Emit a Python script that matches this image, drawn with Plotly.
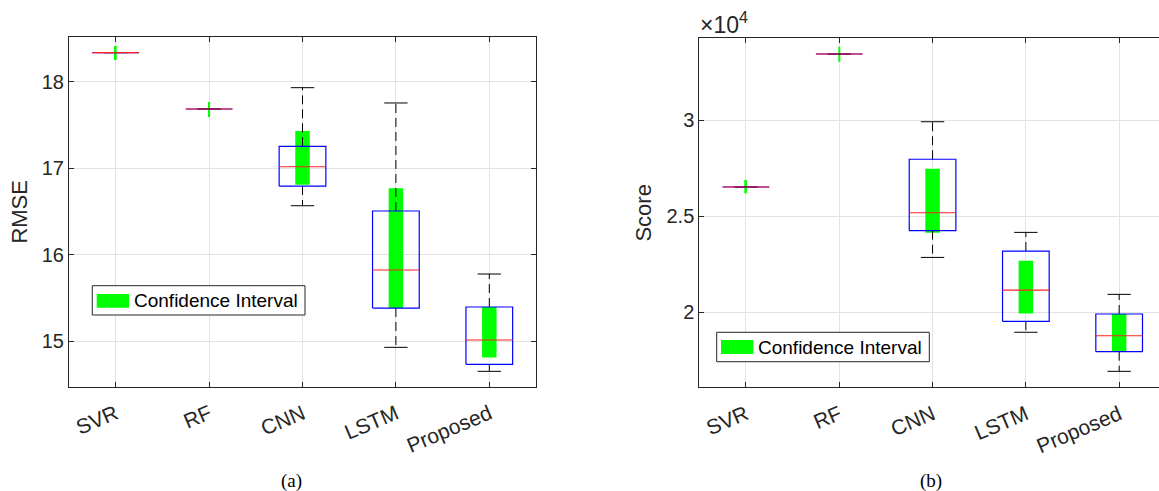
import plotly.graph_objects as go

W, H = 1159, 491

categories = ["SVR", "RF", "CNN", "LSTM", "Proposed"]

# RMSE panel (a)
rmse_lower = [18.34, 17.687, 16.567, 14.927, 14.649]
rmse_q1 = [18.34, 17.687, 16.795, 15.382, 14.730]
rmse_median = [18.34, 17.687, 17.019, 15.822, 15.011]
rmse_q3 = [18.34, 17.687, 17.255, 16.506, 15.394]
rmse_upper = [18.34, 17.687, 17.934, 17.757, 15.776]
rmse_ci_lo = [18.255, 17.595, 16.810, 15.382, 14.808]
rmse_ci_hi = [18.417, 17.768, 17.432, 16.769, 15.394]

# Score panel (b)
score_lower = [26520, 33430, 22860, 18970, 16940]
score_q1 = [26520, 33430, 24250, 19540, 17960]
score_median = [26520, 33430, 25180, 21160, 18790]
score_q3 = [26520, 33430, 27960, 23190, 19920]
score_upper = [26520, 33430, 29910, 24160, 20940]
score_ci_lo = [26190, 33030, 24140, 19950, 18000]
score_ci_hi = [26880, 33810, 27470, 22690, 19920]

ci_widths = [0.02, 0.02, 0.155, 0.155, 0.155]

BOX_HW = 0.25
CAP_HW = 0.125
AX = "#262626"
GRID = "#e3e3e3"
FONT = "Liberation Sans"
SERIF = "Liberation Serif"


def add_panel(fig, xa, ya, lower, q1, med, q3, upper, ci_lo, ci_hi):
    pos = list(range(1, len(categories) + 1))
    # whiskers (dashed)
    wx, wy = [], []
    for p, lo, a, b, up in zip(pos, lower, q1, q3, upper):
        wx += [p, p, None, p, p, None]
        wy += [b, up, None, a, lo, None]
    fig.add_trace(go.Scatter(x=wx, y=wy, mode="lines", xaxis=xa, yaxis=ya,
                             line=dict(color="black", width=1, dash="9px,5px"),
                             showlegend=False, hoverinfo="skip"))
    # caps
    cx, cy = [], []
    for p, lo, up in zip(pos, lower, upper):
        cx += [p - CAP_HW, p + CAP_HW, None, p - CAP_HW, p + CAP_HW, None]
        cy += [up, up, None, lo, lo, None]
    fig.add_trace(go.Scatter(x=cx, y=cy, mode="lines", xaxis=xa, yaxis=ya,
                             line=dict(color="black", width=1),
                             showlegend=False, hoverinfo="skip"))
    # boxes
    bx, by = [], []
    for p, a, b in zip(pos, q1, q3):
        bx += [p - BOX_HW, p + BOX_HW, p + BOX_HW, p - BOX_HW, p - BOX_HW, None]
        by += [a, a, b, b, a, None]
    fig.add_trace(go.Scatter(x=bx, y=by, mode="lines", xaxis=xa, yaxis=ya,
                             line=dict(color="#0000ff", width=1.2),
                             showlegend=False, hoverinfo="skip"))
    # medians
    mx, my = [], []
    for p, m in zip(pos, med):
        mx += [p - BOX_HW, p + BOX_HW, None]
        my += [m, m, None]
    fig.add_trace(go.Scatter(x=mx, y=my, mode="lines", xaxis=xa, yaxis=ya,
                             line=dict(color="#ff2020", width=1.1),
                             showlegend=False, hoverinfo="skip"))
    # confidence interval bars
    fig.add_trace(go.Bar(x=pos, y=[h - l for l, h in zip(ci_lo, ci_hi)], base=ci_lo,
                         width=ci_widths, xaxis=xa, yaxis=ya,
                         marker=dict(color="#00ff00", line=dict(width=0)),
                         showlegend=False, hoverinfo="skip"))


fig = go.Figure()
add_panel(fig, "x", "y", rmse_lower, rmse_q1, rmse_median, rmse_q3, rmse_upper, rmse_ci_lo, rmse_ci_hi)
add_panel(fig, "x2", "y2", score_lower, score_q1, score_median, score_q3, score_upper, score_ci_lo, score_ci_hi)


def px(x):
    return x / W


def py(y):
    return 1 - y / H


common_x = dict(tickmode="array", tickvals=list(range(1, 6)), ticktext=categories,
                tickangle=-23, showgrid=True, gridcolor=GRID, gridwidth=1,
                showline=True, linecolor=AX, linewidth=1, ticks="inside", ticklen=5,
                tickcolor=AX, zeroline=False, ticklabelstandoff=6,
                tickfont=dict(family=FONT, size=21, color=AX))
common_y = dict(showgrid=True, gridcolor=GRID, gridwidth=1, showline=True,
                linecolor=AX, linewidth=1, ticks="inside", ticklen=5, tickcolor=AX,
                zeroline=False, tickfont=dict(family=FONT, size=20, color=AX))

fig.update_layout(
    width=W, height=H, margin=dict(l=0, r=0, t=0, b=0),
    paper_bgcolor="white", plot_bgcolor="white", barmode="overlay",
    showlegend=False,
    xaxis=dict(common_x, domain=[px(69), px(536)], range=[0.5, 5.5], anchor="y",
               mirror="ticks"),
    yaxis=dict(common_y, domain=[py(386.7), py(37)], range=[14.471, 18.521], anchor="x",
               mirror="ticks", tickvals=[15, 16, 17, 18], ticktext=["15", "16", "17", "18"],
               title=dict(text="RMSE", font=dict(family=FONT, size=22, color=AX), standoff=8)),
    xaxis2=dict(common_x, domain=[px(699.3), 1.0], range=[0.5, 5.427], anchor="y2",
                mirror="ticks"),
    yaxis2=dict(common_y, domain=[py(387.3), py(38.3)], range=[16110, 34246], anchor="x2",
                mirror=False, tickvals=[20000, 25000, 30000], ticktext=["2", "2.5", "3"],
                title=dict(text="Score", font=dict(family=FONT, size=22, color=AX), standoff=8)),
)

shapes = []
annotations = []
for (bx0, bx1, by0, by1, gx0, gx1, gy0, gy1, tx, ty) in [
    (92.3, 305, 285.7, 315, 96.7, 129, 294, 307.7, 132, 300.5),
    (716.7, 929.3, 332.3, 361.7, 721, 753.3, 340, 354, 756, 347),
]:
    shapes.append(dict(type="rect", xref="paper", yref="paper", x0=px(bx0), x1=px(bx1),
                       y0=py(by1), y1=py(by0), line=dict(color="#262626", width=1),
                       fillcolor="white", layer="above"))
    shapes.append(dict(type="rect", xref="paper", yref="paper", x0=px(gx0), x1=px(gx1),
                       y0=py(gy1), y1=py(gy0), line=dict(width=0),
                       fillcolor="#00ff00", layer="above"))
    annotations.append(dict(text="Confidence Interval", xref="paper", yref="paper",
                            x=px(tx), y=py(ty), xanchor="left", yanchor="middle",
                            showarrow=False,
                            font=dict(family=FONT, size=19, color="black")))

annotations.append(dict(text="×10<sup>4</sup>", xref="paper", yref="paper",
                        x=px(698), y=py(40), xanchor="left", yanchor="bottom",
                        showarrow=False, font=dict(family=FONT, size=23, color=AX)))
annotations.append(dict(text="(a)", xref="paper", yref="paper", x=px(291), y=py(481),
                        xanchor="center", yanchor="middle", showarrow=False,
                        font=dict(family=SERIF, size=19, color="black")))
annotations.append(dict(text="(b)", xref="paper", yref="paper", x=px(931), y=py(481),
                        xanchor="center", yanchor="middle", showarrow=False,
                        font=dict(family=SERIF, size=19, color="black")))

fig.update_layout(shapes=shapes, annotations=annotations)

fig.write_html("out.html")
